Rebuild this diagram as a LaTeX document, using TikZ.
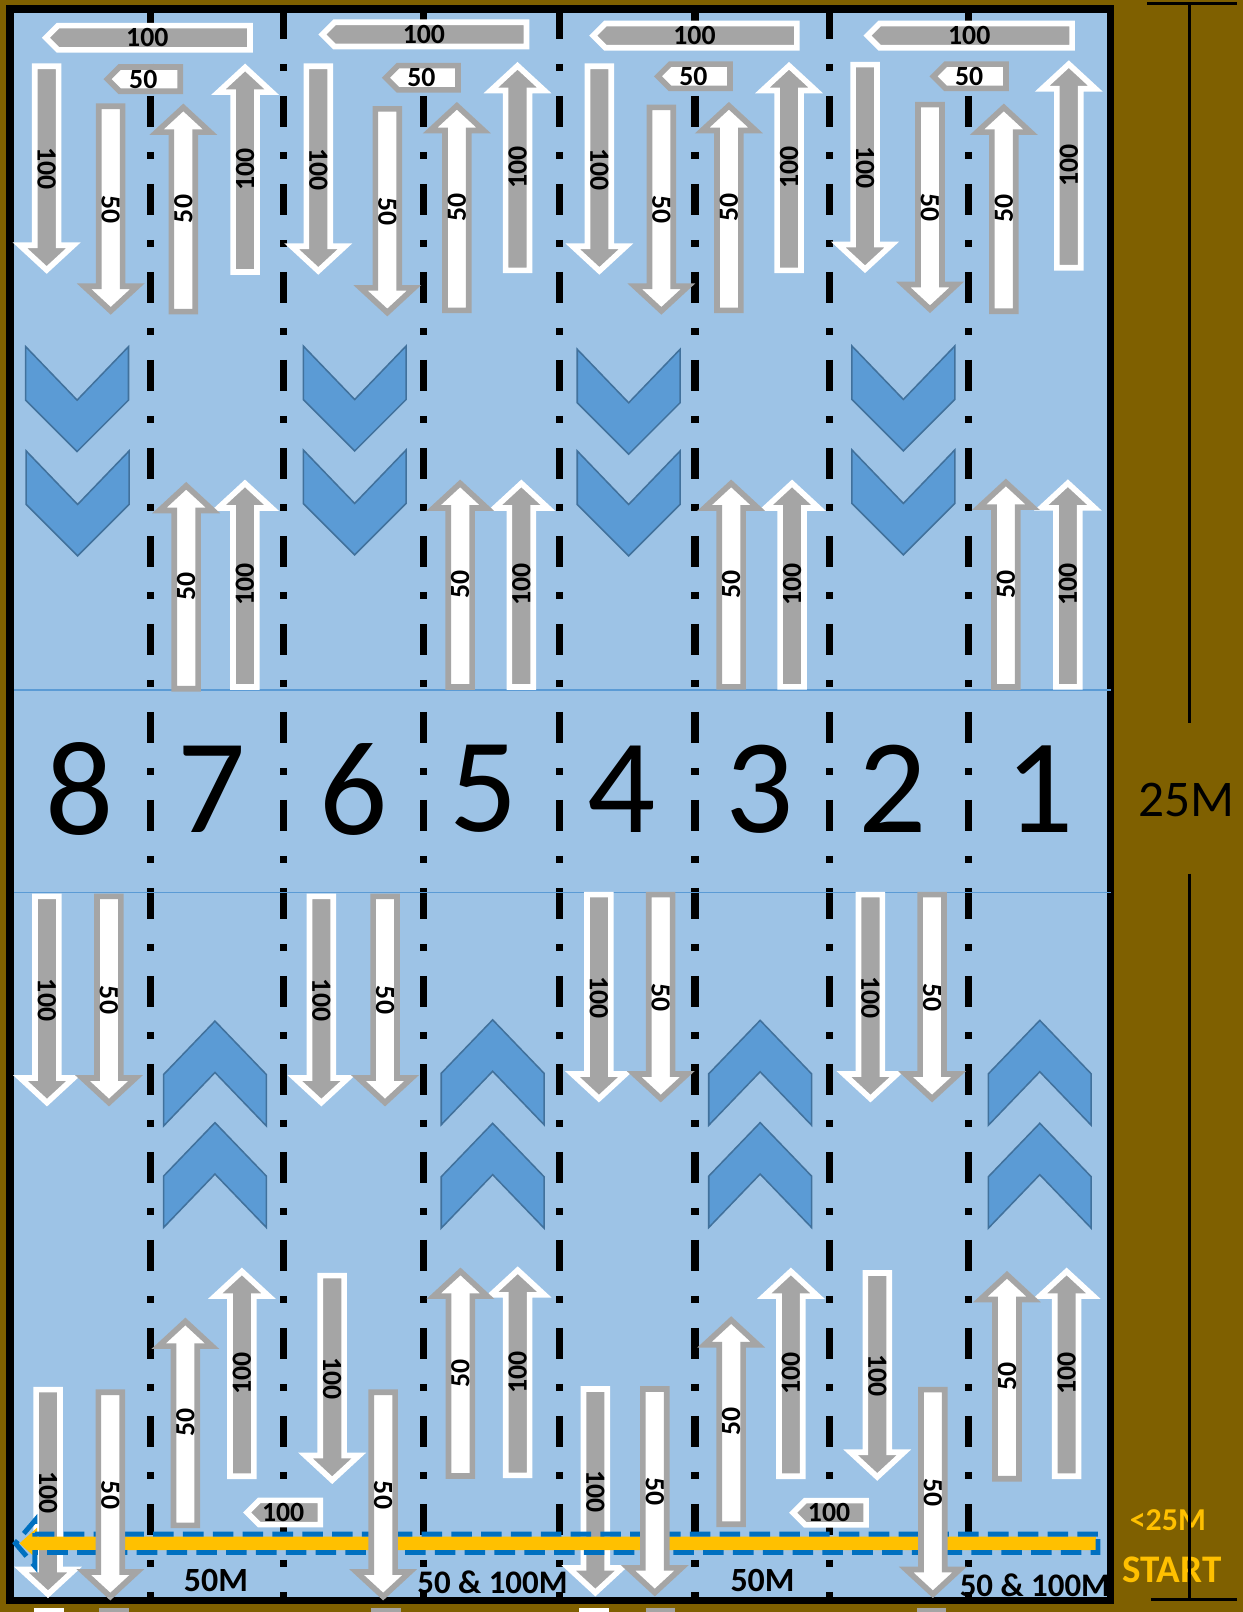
\documentclass[tikz,border=0pt]{standalone}
\usepackage{fontspec}
\usepackage{tikz}
\usepackage{xcolor}
\setmainfont{Carlito}

\definecolor{deck}{HTML}{7F6000}
\definecolor{water}{HTML}{9DC3E6}
\definecolor{arrowgray}{HTML}{A5A5A5}
\definecolor{chevfill}{HTML}{5B9BD5}
\definecolor{chevedge}{HTML}{41719C}
\definecolor{startgold}{HTML}{FFC000}
\definecolor{startblue}{HTML}{0070C0}

\tikzset{
  pool/.style={fill=water, draw=black, line width=7.5pt},
  laneline/.style={line width=7pt, dash pattern=on 30.2pt off 24.3pt on 6.8pt off 24.3pt, dash phase=4.9pt},
  markline/.style={draw=chevfill, line width=1.5pt},
  grayarrow/.style={fill=arrowgray, draw=white, line width=5.5pt},
  whitearrow/.style={fill=white, draw=arrowgray, line width=5.5pt},
  chevron/.style={fill=chevfill, draw=chevedge, line width=1.5pt},
  lbl/.style={inner sep=0pt, font=\bfseries\fontsize{27}{27}\selectfont},
  lanenum/.style={inner sep=0pt, font=\fontsize{131}{131}\selectfont},
  poolnote/.style={inner sep=0pt, font=\bfseries\fontsize{32}{32}\selectfont},
  startlbl/.style={inner sep=0pt, text=startgold, font=\bfseries\fontsize{38}{38}\selectfont},
  dimline/.style={line width=2.8pt},
}

% style, name, x, tail, tip, label
\newcommand{\lanearrow}[6]{%
  \pgfmathsetmacro{\adir}{sign(#5-#4)}%
  \pgfmathsetmacro{\atail}{#4+2.9*\adir}%
  \pgfmathsetmacro{\atip}{#5-4*\adir}%
  \pgfmathsetmacro{\abase}{\atip-24*\adir}%
  \pgfmathsetmacro{\amid}{(#4+#5)/2}%
  \pgfmathsetmacro{\arot}{-90*\adir}%
  \draw[#1] (#3-11.6,\atail) -- (#3+11.6,\atail) -- (#3+11.6,\abase) -- (#3+26,\abase)
    -- (#3,\atip) -- (#3-26,\abase) -- (#3-11.6,\abase) -- cycle;
  \node[lbl, rotate=\arot] (#2) at (#3,\amid) {#6};
}
% style, name, x tip, x right, y, label
\newcommand{\turnarrow}[6]{%
  \draw[#1] (#4-2.9,#5-11.8) -- (#3+15.8,#5-11.8) -- (#3+4,#5) -- (#3+15.8,#5+11.8)
    -- (#4-2.9,#5+11.8) -- cycle;
  \node[lbl] (#2) at ({(#3+#4)/2},#5) {#6};
}
\newcommand{\chevdown}[2]{%
  \draw[chevron] (#1-50,#2) -- (#1,#2+52) -- (#1+50,#2) -- (#1+50,#2+52) -- (#1,#2+102)
    -- (#1-50,#2+52) -- cycle;
}
\newcommand{\chevup}[2]{%
  \draw[chevron] (#1,#2) -- (#1+50,#2+52) -- (#1+50,#2+102) -- (#1,#2+50) -- (#1-50,#2+102)
    -- (#1-50,#2+52) -- cycle;
}

\begin{document}
\begin{tikzpicture}[x=1pt,y=-1pt]
\useasboundingbox (0,0) rectangle (1209,1568);
\fill[deck] (0,0) rectangle (1209,1568);
\draw[pool] (9.7,8.8) rectangle (1080.2,1556.8);

\foreach \x in {146,276,412,544,676,807,942}
  \draw[laneline] (\x,12.6) -- (\x,1553.4);
\foreach \y in {671.2,868}
  \draw[markline] (13.6,\y) -- (1081,\y);

\foreach \n/\x in {8/77,7/205.8,6/344.3,5/470,4/605,3/739,2/867.8,1/1011.3}
  \node[lanenum] (lane\n) at (\x,767.7) {\n};

\foreach \x/\y in {75/337.2,75.5/438.7,345/336.6,345/437.7,611.5/339.8,611.5/438.7,878.7/336.6,878.7/437.7}
  \chevdown{\x}{\y};
\foreach \x/\y in {209.1/993.2,209.1/1092,479.2/992,479.2/1092.6,739.4/992.5,739.4/1092,1011.4/992.5,1011.4/1092.6}
  \chevup{\x}{\y};

\foreach \x/\ya/\yb [count=\n] in {45.4/61.6/266.6,238.4/267.5/61.6,309.6/61.6/267.5,503.4/265.9/60,
    583/61.6/267.5,767.5/265.9/60,841.4/60/265.9,1039.6/263.3/58.4,
    238.3/671.2/466.2,507.1/671.2/466.2,770.4/671/466.2,1038.7/671/466,
    45.7/869/1076.5,312.6/869/1076.5,582.6/867.3/1072.6,846.7/867.3/1072.6,
    46.7/1348.8/1554.7,235.3/1438.9/1232.7,323.1/1237.9/1443.8,503.6/1438/1231.5,
    579.1/1348.2/1553.1,769.3/1438.9/1232.7,853.3/1235.3/1440.6,1037.5/1438.9/1232.7}
  \lanearrow{grayarrow}{g\n}{\x}{\ya}{\yb}{100};
\foreach \x/\ya/\yb [count=\n] in {107.7/100.5/306.4,178.3/306/100.5,376.7/103/308,444.4/304.8/98.9,
    643.3/101.5/306.4,709/304.8/98.9,904.6/98.9/304.8,976.4/305.7/100.5,
    181.1/672.8/468.5,447.6/671.2/466.2,711.2/671/466.2,978.4/671.2/465.3,
    106/869/1076.5,374.5/869/1076.5,642.7/867.3/1072.6,906.6/867.3/1072.6,
    180.3/1486.6/1281.4,447.9/1438.6/1232.7,711.2/1485.6/1280,979.5/1441.2/1236}
  \lanearrow{whitearrow}{w\n}{\x}{\ya}{\yb}{50};

\foreach \xa/\xb/\y [count=\n] in {40.6/246/36.7,309.6/515/33.5,573/778/34.7,839.8/1045.7/34.7,
    236.4/314.5/1471.2,767.4/845.4/1471.4}
  \turnarrow{grayarrow}{h\n}{\xa}{\xb}{\y}{100};
\foreach \xa/\xb/\y [count=\n] in {100.5/178.3/77,371.3/448.4/75.6,636/713/74.2,904/981.5/74.2}
  \turnarrow{whitearrow}{k\n}{\xa}{\xb}{\y}{50};

\fill[startgold] (1066,1494.7) -- (36,1494.7) -- (36,1486) -- (19,1501.2) -- (36,1516.4)
  -- (36,1507.7) -- (1066,1507.7) -- cycle;
\draw[startblue, line width=4.8pt, dash pattern=on 20pt off 9pt] (1068,1492.3) -- (34,1492.3)
  -- (34,1479) -- (15,1501.2) -- (34,1523.4) -- (34,1510.1) -- (1068,1510.1) -- cycle;

\foreach \x/\ya/\yb [count=\n] in {107.3/1351.4/1557,372.7/1351.4/1557,636.9/1348.2/1553.1,907.4/1348.8/1554.7}
  \lanearrow{whitearrow}{v\n}{\x}{\ya}{\yb}{50};

\foreach \x in {47.6,578}
  \draw[grayarrow] (\x-11.6,1566.9) rectangle (\x+11.6,1590);
\foreach \x in {111,375.5,642.5,906}
  \draw[whitearrow] (\x-11.6,1566.9) rectangle (\x+11.6,1590);

\node[poolnote, font=\bfseries\fontsize{33}{33}\selectfont] (fiftya) at (210,1537.5) {50M};
\node[poolnote] (bothA) at (479,1539) {50 \& 100M};
\node[poolnote, font=\bfseries\fontsize{33}{33}\selectfont] (fiftyb) at (741.7,1537) {50M};
\node[poolnote] (bothB) at (1006.6,1542) {50 \& 100M};
\node[startlbl, font=\bfseries\fontsize{31}{31}\selectfont] (short) at (1136,1479) {<25M};
\node[startlbl] (start) at (1140,1527) {START};

\node[inner sep=0pt, font=\fontsize{50}{50}\selectfont] (dist) at (1154,778) {25M};
\coordinate (dimtop) at (1157,3.8);
\coordinate (dimbot) at (1157,1555.4);
\coordinate (gapa) at (1157,702.8);
\coordinate (gapb) at (1157,849.7);
\draw[dimline] ([xshift=-41pt]dimtop) -- ([xshift=46.5pt]dimtop);
\draw[dimline] ([xshift=-37.5pt]dimbot) -- ([xshift=46.5pt]dimbot);
\draw[dimline, line width=3.2pt] (dimtop) -- (gapa);
\draw[dimline, line width=3.2pt] (gapb) -- (dimbot);
\end{tikzpicture}
\end{document}
